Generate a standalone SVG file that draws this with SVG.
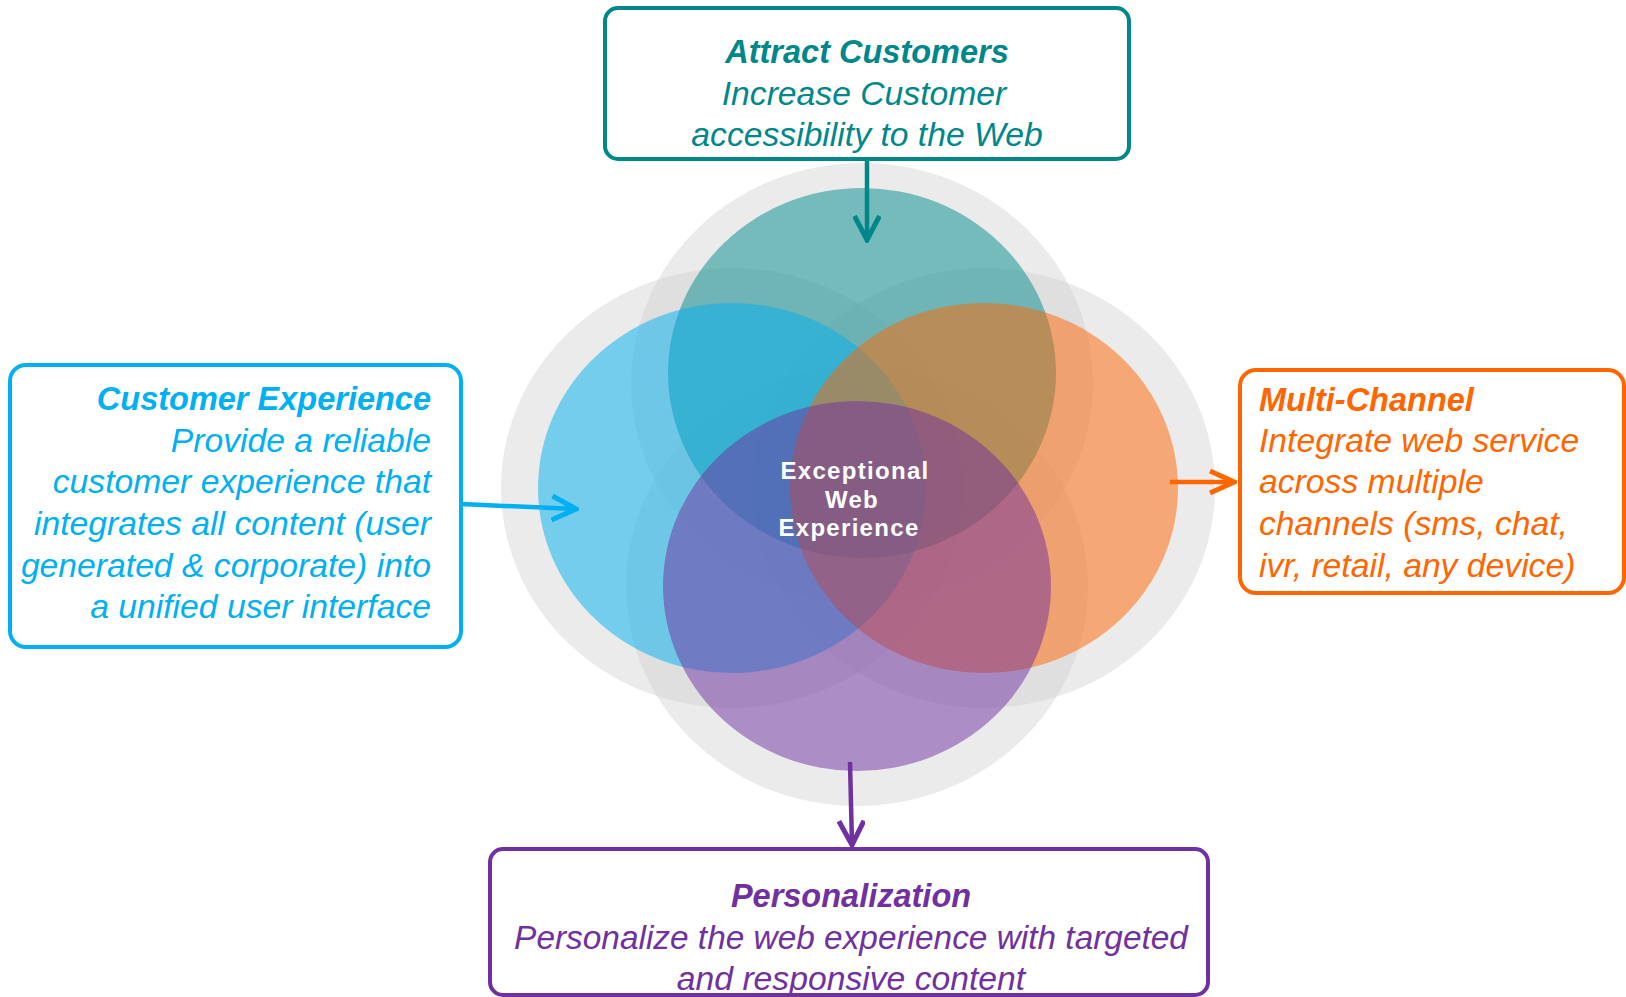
<svg xmlns="http://www.w3.org/2000/svg" width="1626" height="997" viewBox="0 0 1626 997">
  <style>
    .halo { fill: #cfcfcf; fill-opacity: 0.42; }
    .circ { fill-opacity: 0.5; }
    .box { fill: #ffffff; stroke-width: 4; }
    .t { font-family: "Liberation Sans", Arial, sans-serif; font-style: italic; font-size: 33.7px; }
    .title { font-weight: bold; font-size: 32.5px; }
    .mid { text-anchor: middle; }
    .end { text-anchor: end; }
    .teal { fill: #00878a; }
    .blue { fill: #00b0f0; }
    .orange { fill: #ff6600; }
    .purple { fill: #7030a0; }
    .center { font-family: "Liberation Sans", Arial, sans-serif; font-weight: bold; font-size: 24px; letter-spacing: 1.3px; fill: #ffffff; text-anchor: middle; }
    .conn { fill: none; stroke-width: 4.5; }
  </style>
  <defs>
    <marker id="ah-teal" markerUnits="userSpaceOnUse" viewBox="0 0 28 28" markerWidth="28" markerHeight="28" refX="25" refY="14" orient="auto">
      <path d="M1,1.5 L25,14 L1,26.5" fill="none" stroke="#00878a" stroke-width="5"/>
    </marker>
    <marker id="ah-blue" markerUnits="userSpaceOnUse" viewBox="0 0 28 28" markerWidth="28" markerHeight="28" refX="25" refY="14" orient="auto">
      <path d="M1,2 L25,14 L1,26" fill="none" stroke="#00b0f0" stroke-width="5"/>
    </marker>
    <marker id="ah-orange" markerUnits="userSpaceOnUse" viewBox="0 0 28 28" markerWidth="28" markerHeight="28" refX="25" refY="14" orient="auto">
      <path d="M1,3 L25,14 L1,25" fill="none" stroke="#ff6600" stroke-width="5"/>
    </marker>
    <marker id="ah-purple" markerUnits="userSpaceOnUse" viewBox="0 0 28 28" markerWidth="28" markerHeight="28" refX="25" refY="14" orient="auto">
      <path d="M1,1.5 L25,14 L1,26.5" fill="none" stroke="#7030a0" stroke-width="5"/>
    </marker>
  </defs>

  <rect width="1626" height="997" fill="#ffffff"/>

  <g id="venn">
    <ellipse class="halo" cx="862" cy="383" rx="231" ry="220"/>
    <ellipse class="halo" cx="732" cy="488" rx="231" ry="220"/>
    <ellipse class="halo" cx="984" cy="488" rx="231" ry="220"/>
    <ellipse class="halo" cx="857" cy="586" rx="231" ry="220"/>
    <ellipse class="circ" cx="862" cy="373" rx="194" ry="185" fill="#008b8b"/>
    <ellipse class="circ" cx="732" cy="488" rx="194" ry="185" fill="#00b0f0"/>
    <ellipse class="circ" cx="984" cy="488" rx="194" ry="185" fill="#ff6600"/>
    <ellipse class="circ" cx="857" cy="586" rx="194" ry="185" fill="#7030a0"/>
  </g>

  <g id="center-label">
    <text class="center" x="855" y="479">Exceptional</text>
    <text class="center" x="852" y="508">Web</text>
    <text class="center" x="849" y="536">Experience</text>
  </g>

  <g id="connectors">
    <line class="conn" x1="867" y1="159" x2="867" y2="240" stroke="#00878a" marker-end="url(#ah-teal)"/>
    <line class="conn" x1="461" y1="504" x2="576" y2="509" stroke="#00b0f0" marker-end="url(#ah-blue)"/>
    <line class="conn" x1="1170" y1="482" x2="1234" y2="482" stroke="#ff6600" marker-end="url(#ah-orange)"/>
    <line class="conn" x1="850" y1="762" x2="852" y2="845" stroke="#7030a0" marker-end="url(#ah-purple)"/>
  </g>

  <g id="attract-customers">
    <rect class="box" x="605" y="8" width="524" height="151" rx="13" stroke="#00878a"/>
    <text class="t title mid teal" x="867" y="63">Attract Customers</text>
    <text class="t mid teal" x="864" y="104.5">Increase Customer</text>
    <text class="t mid teal" x="867" y="146">accessibility to the Web</text>
  </g>

  <g id="customer-experience">
    <rect class="box" x="10" y="365" width="451" height="282" rx="16" stroke="#00b0f0"/>
    <text class="t title end blue" x="431" y="410">Customer Experience</text>
    <text class="t end blue" x="431" y="451.5">Provide a reliable</text>
    <text class="t end blue" x="431" y="493">customer experience that</text>
    <text class="t end blue" x="431" y="535">integrates all content (user</text>
    <text class="t end blue" x="431" y="576.5">generated &amp; corporate) into</text>
    <text class="t end blue" x="431" y="618">a unified user interface</text>
  </g>

  <g id="multi-channel">
    <rect class="box" x="1240" y="370" width="384" height="223" rx="16" stroke="#ff6600"/>
    <text class="t title orange" x="1259" y="410.5">Multi-Channel</text>
    <text class="t orange" x="1259" y="451.5">Integrate web service</text>
    <text class="t orange" x="1259" y="493">across multiple</text>
    <text class="t orange" x="1259" y="535">channels (sms, chat,</text>
    <text class="t orange" x="1259" y="576.5">ivr, retail, any device)</text>
  </g>

  <g id="personalization">
    <rect class="box" x="490" y="849" width="718" height="146" rx="13" stroke="#7030a0"/>
    <text class="t title mid purple" x="851" y="907">Personalization</text>
    <text class="t mid purple" x="851" y="949" style="font-size:33.4px">Personalize the web experience with targeted</text>
    <text class="t mid purple" x="851" y="990">and responsive content</text>
  </g>
</svg>
